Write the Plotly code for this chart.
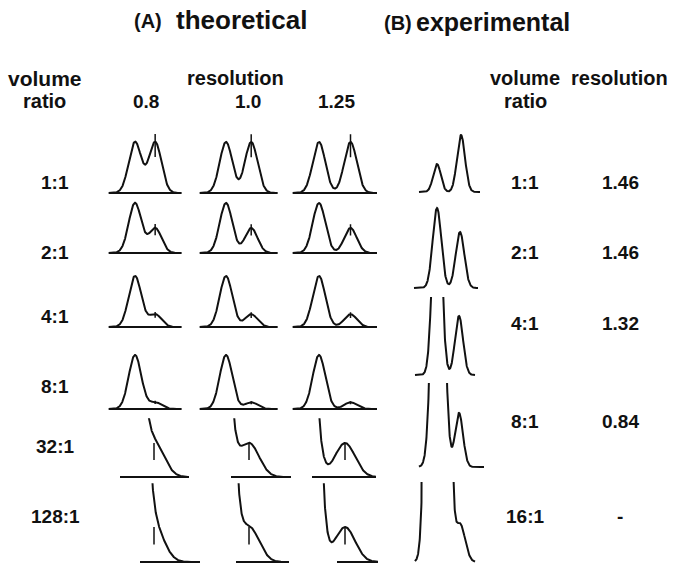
import numpy as np
import plotly.graph_objects as go

W, H = 676, 564
ink = "#111111"
font = "Liberation Sans, Arial, Helvetica, sans-serif"

# (A) theoretical: volume ratio x resolution
ratio_labels = ["1:1", "2:1", "4:1", "8:1", "32:1", "128:1"]
ratios = [1, 2, 4, 8, 32, 128]
res_labels = ["0.8", "1.0", "1.25"]
resolutions = [0.8, 1.0, 1.25]

# (B) experimental traces, two peaks each (time units / detector units)
exp_labels = ["1:1", "2:1", "4:1", "8:1", "16:1"]
exp_res_labels = ["1.46", "1.46", "1.32", "0.84", "-"]
exp_t1 = [25, 25, 25, 26, 25.5]
exp_t2 = [49, 48, 47, 47, 48]
exp_h1 = [28, 80, 216, 424, 4170]
exp_h2 = [57, 56, 59, 54, 38]
exp_w1 = [3.8, 4.3, 4.2, 5.0, 5.5]
exp_w2 = [4.0, 4.3, 4.0, 4.0, 5.0]
exp_start = [7, 2, 3, 7, 3]
exp_end = [68, 66, 63, 72, 63]

# layout in pixels
row_base = [193, 253, 327, 409, 477, 562]
row_scale = [51, 50, 51, 54, 1088, 4480]   # px per unit of peak height
row_top = [1.2, 1.2, 1.2, 1.2, 0.054, 0.0176]
col_apex = [135, 226, 319]
zoom_apex = [122, 209, 295]
# expanded rows (32:1, 128:1): visible window and drawn baseline, in peak widths
zoom_xrange = [[[-0.2, 6.7], [2.2, 8.2], [1.7, 8.1]],
               [[1.8, 7.8], [2.5, 8.0], [2.5, 8.3]]]
zoom_base = [[[-0.2, 6.7], [2.2, 8.2], [1.7, 8.1]],
             [[1.8, 7.8], [2.7, 8.0], [4.2, 8.3]]]
exp_base = [192, 288, 375, 467, 562]
exp_top = [62, 83, 78, 84, 80]

fig = go.Figure()
axes = {}
n = 0


def new_axes(xr, yr, xd, yd):
    global n
    n += 1
    s = "" if n == 1 else str(n)
    axes["xaxis" + s] = dict(range=xr, domain=xd, visible=False, anchor="y" + s, fixedrange=True)
    axes["yaxis" + s] = dict(range=yr, domain=yd, visible=False, anchor="x" + s, fixedrange=True)
    return "x" + s, "y" + s


def line(x, y, xa, ya, w=2):
    fig.add_trace(go.Scatter(x=x, y=y, mode="lines", line=dict(color=ink, width=w),
                             xaxis=xa, yaxis=ya, hoverinfo="skip", showlegend=False))


for r, ratio in enumerate(ratios):
    zoom = r >= 4
    k = row_scale[r]
    base = row_base[r]
    top = row_top[r]
    sig = 10 if zoom else 6.3
    for c, rs in enumerate(resolutions):
        d = 4 * rs
        if zoom:
            x0, x1 = zoom_xrange[r - 4][c]
            b0, b1 = zoom_base[r - 4][c]
            apex = zoom_apex[c]
            x = np.linspace(0, x1, 600)
        else:
            x0, x1 = -4.2, d + 4.2
            b0, b1 = x0, x1
            apex = col_apex[c]
            x = np.linspace(x0, x1, 300)
        y = np.exp(-x ** 2 / 2) + np.exp(-(x - d) ** 2 / 2) / ratio
        xd = [(apex + x0 * sig) / W, (apex + x1 * sig) / W]
        yd = [1 - (base + 2) / H, 1 - (base - top * k) / H]
        xa, ya = new_axes([x0, x1], [-2 / k, top], xd, yd)
        line(x, y, xa, ya)
        line([b0, b1], [0, 0], xa, ya)
        # mark where the minor component sits
        m = 1 / ratio
        yd_ = np.exp(-d ** 2 / 2) + m
        lo, hi = (0.5 * m, 1.0 * m) if zoom else (0.7 * yd_, 1.15 * yd_)
        line([d, d], [lo, hi], xa, ya, 1.5)

for i in range(len(exp_labels)):
    t = np.linspace(exp_start[i], exp_end[i], 400)
    y = (exp_h1[i] * np.exp(-(t - exp_t1[i]) ** 2 / (2 * exp_w1[i] ** 2))
         + exp_h2[i] * np.exp(-(t - exp_t2[i]) ** 2 / (2 * exp_w2[i] ** 2)))
    base = exp_base[i]
    xa, ya = new_axes([0, 74], [-2, exp_top[i]], [412 / W, 486 / W],
                      [1 - (base + 2) / H, 1 - (base - exp_top[i]) / H])
    line(t, y, xa, ya)

ann = []


def label(txt, x, y, size):
    ann.append(dict(text="<b>" + txt + "</b>", x=x / W, y=1 - y / H, xref="paper", yref="paper",
                    showarrow=False, xanchor="center", yanchor="middle",
                    font=dict(family=font, size=size, color=ink)))


label("(A)", 148, 21, 20)
label("theoretical", 242, 20, 26)
label("(B)", 398, 23, 20)
label("experimental", 493, 22, 25)
label("volume", 45, 78, 21)
label("ratio", 44, 101, 20)
label("resolution", 235, 78, 20)
for c, txt in enumerate(res_labels):
    label(txt, [146, 248, 336][c], 101, 19)
label("volume", 525, 78, 20)
label("ratio", 525, 101, 20)
label("resolution", 619, 78, 20)
for r, txt in enumerate(ratio_labels):
    label(txt, 55, [182, 252, 316, 386, 446, 516][r], 19)
for i, txt in enumerate(exp_labels):
    yy = [182, 252, 323, 421, 516][i]
    label(txt, 525, yy, 19)
    label(exp_res_labels[i], 620, yy, 19)

fig.update_layout(width=W, height=H, margin=dict(l=0, r=0, t=0, b=0),
                  paper_bgcolor="white", plot_bgcolor="rgba(0,0,0,0)",
                  annotations=ann, showlegend=False, **axes)

fig.write_html("out.html", config={"displayModeBar": False},
               post_script="document.body.style.margin='0';")
